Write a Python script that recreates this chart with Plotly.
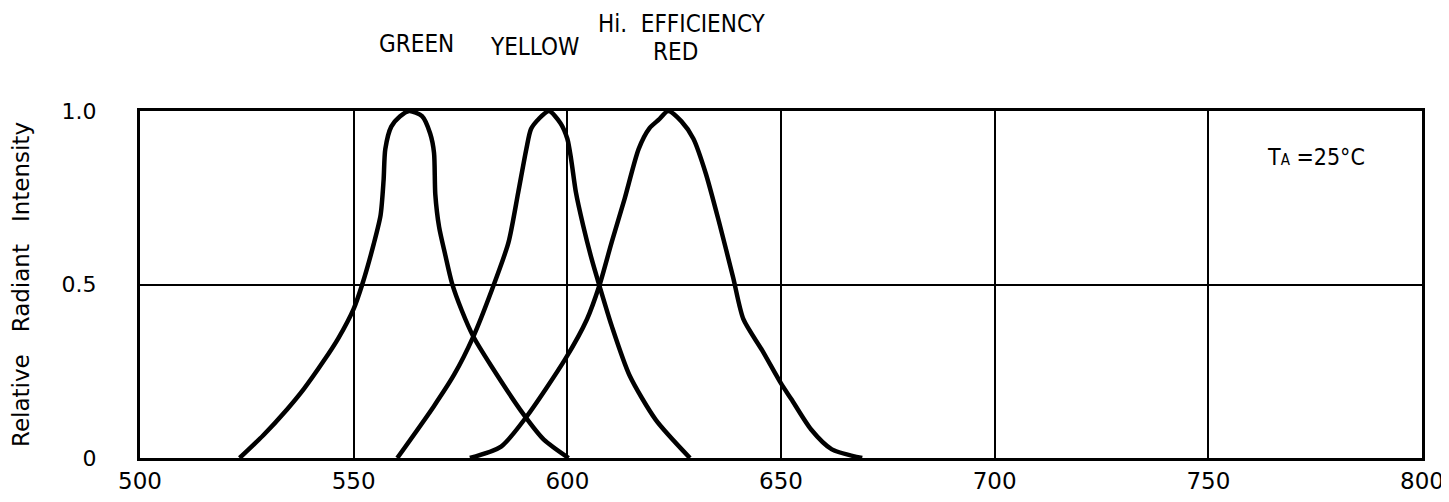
import plotly.graph_objects as go

# ---- data ----
x_ticks = [500, 550, 600, 650, 700, 750, 800]
x_ticktext = ["500", "550", "600", "650", "700", "750", "800"]
y_ticks = [0, 0.5, 1.0]
y_ticktext = ["0", "0.5", "1.0"]

green_nm = [523.3, 528.8, 534.4, 538.4, 543.0, 546.4, 550.0, 552.0, 554.7, 556.3, 557.0,
            557.4, 558.8, 560.8, 563.0, 566.0, 567.9, 568.8, 569.1, 570.0, 571.4, 573.0,
            575.3, 578.0, 582.2, 589.8, 594.5, 600.3]
green_val = [0.0, 0.065, 0.14, 0.20, 0.28, 0.345, 0.43, 0.50, 0.617, 0.70, 0.80,
             0.89, 0.955, 0.984, 1.0, 0.985, 0.935, 0.88, 0.76, 0.665, 0.587, 0.504,
             0.425, 0.35, 0.265, 0.125, 0.053, 0.0]

yellow_nm = [560.2, 568.7, 573.5, 578.0, 582.2, 586.2, 588.5, 590.4, 591.5, 593.3, 595.7,
             598.4, 600.0, 600.9, 602.0, 603.7, 605.7, 607.5, 610.4, 614.6, 620.7, 628.7]
yellow_val = [0.0, 0.148, 0.24, 0.35, 0.48, 0.62, 0.765, 0.89, 0.948, 0.977, 1.0,
              0.965, 0.92, 0.86, 0.766, 0.67, 0.573, 0.497, 0.38, 0.237, 0.11, 0.0]

red_nm = [577.2, 584.5, 590.5, 599.5, 604.6, 607.5, 610.4, 613.4, 616.7, 619.2, 621.4,
          623.6, 626.7, 629.5, 632.4, 635.5, 638.8, 641.2, 645.6, 650.0, 652.4, 657.0,
          661.9, 669.0]
red_val = [0.0, 0.033, 0.12, 0.285, 0.40, 0.497, 0.623, 0.747, 0.891, 0.95, 0.975,
           1.0, 0.97, 0.92, 0.82, 0.68, 0.52, 0.40, 0.31, 0.215, 0.17, 0.083,
           0.025, 0.0]

series_names = ["GREEN", "YELLOW", "Hi. EFFICIENCY RED"]

NB = "\u00a0"
fig = go.Figure()
for name, xs, ys in zip(series_names, [green_nm, yellow_nm, red_nm],
                        [green_val, yellow_val, red_val]):
    fig.add_trace(go.Scatter(
        x=xs, y=ys, mode="lines", name=name, showlegend=False,
        line=dict(color="black", width=4.5, shape="spline", smoothing=0.7),
        hoverinfo="skip"))

label_font = dict(family="DejaVu Sans Condensed, Liberation Sans Narrow, Roboto Condensed, DejaVu Sans",
                  size=24, color="black")
annotations = [
    dict(text="GREEN", x=564.7, y=1.193),
    dict(text="YELLOW", x=592.4, y=1.184),
    dict(text="Hi." + NB + NB + "EFFICIENCY", x=626.9, y=1.251),
    dict(text="RED", x=625.3, y=1.170),
]
for a in annotations:
    a.update(xref="x", yref="paper", showarrow=False, font=label_font,
             xanchor="center", yanchor="middle")

annotations.append(dict(
    text="T<span style='font-size:15px'>A</span>" + NB + "=25°C",
    x=775.3, y=0.867, xref="x", yref="paper",
    showarrow=False, xanchor="center", yanchor="middle",
    font=dict(family="DejaVu Sans Condensed, DejaVu Sans", size=23, color="black")))

# page body has an 8px margin: figure is offset by 8px in the window
fig.update_layout(
    width=1441, height=494,
    margin=dict(l=132, r=27, t=103, b=44),
    paper_bgcolor="white", plot_bgcolor="white",
    annotations=annotations,
    xaxis=dict(
        range=[500, 800], tickvals=x_ticks, ticktext=x_ticktext,
        showgrid=True, gridcolor="black", gridwidth=2,
        showline=True, linecolor="black", linewidth=3, mirror=True,
        zeroline=False, ticks="", ticklabelstandoff=0, automargin=False,
        ticklabeloverflow="allow",
        tickfont=dict(family="DejaVu Sans", size=23, color="black")),
    yaxis=dict(
        range=[0, 1], tickvals=y_ticks, ticktext=y_ticktext,
        showgrid=True, gridcolor="black", gridwidth=2,
        showline=True, linecolor="black", linewidth=3, mirror=True,
        zeroline=False, ticks="", ticklabelstandoff=36, automargin=False,
        tickfont=dict(family="DejaVu Sans", size=22, color="black"),
        title=dict(text="Relative" + NB * 3 + "Radiant" + NB * 3 + "Intensity",
                   standoff=30,
                   font=dict(family="DejaVu Sans", size=23, color="black"))),
)

fig.write_html("out.html")
